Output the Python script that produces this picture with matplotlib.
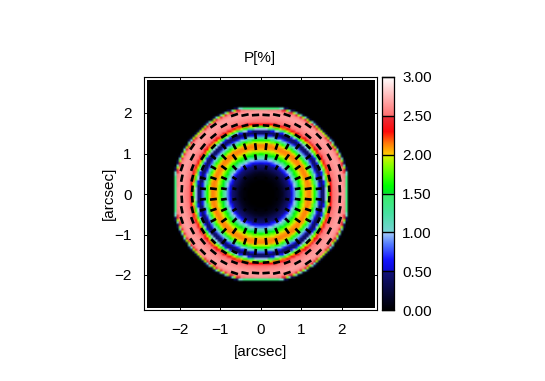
import numpy as np
import matplotlib
matplotlib.use("Agg")
import matplotlib.pyplot as plt
from matplotlib.collections import LineCollection
from matplotlib.colors import LinearSegmentedColormap

plt.rcParams['font.family'] = ['Liberation Sans', 'DejaVu Sans']
plt.rcParams['font.size'] = 11

# radial polarisation profile, one value per 0.025 arcsec ring
p_profile = [0,0,0,0,0,0,0,0,0,0,0,0,0,
             .01,.02,.03,.04,.05,.07,.09,.11,.14,.17,.22,.27,.32,.37,.42,.46,.50,.56,.63,.72,.84,.98,1.12,
             1.25,1.38,1.50,1.60,1.70,1.80,1.90,1.98,2.04,2.08,2.11,2.13,2.13,2.10,2.04,1.95,1.82,1.65,
             1.45,1.25,1.02,.80,.60,.47,.40,.40,.45,.62,1.00,1.40,1.70,1.95,2.15,2.30,2.42,2.50,2.54,2.56,
             2.58,2.60,2.62,2.64,2.66,2.67,2.67,2.66,2.63,2.59,2.55,2.45,1.90,1.10,.30,0,0,0,0]
# dash length per 0.05 arcsec ring (arcsec)
len_profile = [0.03,0.03,0.03,0.03,0.03,0.04,0.04,0.05,0.05,0.06,0.07,0.08,0.09,0.10,0.11,0.12,0.12,
               0.13,0.14,0.15,0.15,0.16,0.16,0.17,0.17,0.16,0.16,0.15,0.15,0.15,0.15,0.15,0.15,0.15,
               0.16,0.17,0.17,0.18,0.18,0.18,0.18,0.18,0.18,0.18,0.00,0.00,0.00]
ring_step = 0.025
len_step = 0.05
radial_limit = 1.50       # dashes radial inside, tangential outside
cell = 0.05625
clip_box = 2.13
edge_value = 1.40
dash_pitch = 0.26
dash_offset = 0.13
dash_count = 9
tick_vals = [-2, -1, 0, 1, 2]
cbar_ticks = [0.00, 0.50, 1.00, 1.50, 2.00, 2.50, 3.00]

cmap_stops = [(0.00,(0,0,0)),(0.10,(3,3,25)),(0.499,(18,18,125)),(0.50,(10,10,210)),(0.65,(20,20,255)),(0.85,(85,125,255)),
              (0.999,(165,205,250)),(1.00,(120,210,215)),(1.25,(70,225,160)),(1.499,(55,240,100)),
              (1.50,(0,230,40)),(1.60,(0,255,0)),(1.85,(130,255,0)),(1.999,(225,240,0)),
              (2.00,(255,205,0)),(2.15,(255,120,10)),(2.30,(255,10,10)),(2.499,(230,50,60)),
              (2.50,(255,110,110)),(3.00,(255,255,255))]
cmap = LinearSegmentedColormap.from_list('pol', [(v/3.0, tuple(c/255 for c in col)) for v, col in cmap_stops], N=512)

W, H = 545, 381
fig = plt.figure(figsize=(W/100, H/100), dpi=100, facecolor='white')
ax = fig.add_axes([144/W, 1-310/H, 232.5/W, 233/H])
ppa = 40.5
cx, cy = 260.8, 194.0

nx = 100
edges = (np.arange(nx)-nx/2+0.5)*cell
X, Y = np.meshgrid(edges, edges)
R = np.hypot(X, Y)
idx = np.minimum(np.round(R/ring_step).astype(int), len(p_profile)-1)
P = np.array(p_profile, dtype=float)[idx]
M = np.maximum(np.abs(X), np.abs(Y))
P = np.where(M > clip_box, 0, P)
P = np.where((M > clip_box-cell) & (M <= clip_box), np.minimum(P, edge_value), P)
ax.imshow(P, cmap=cmap, vmin=0, vmax=3, origin='lower', interpolation='bilinear', aspect='auto',
          extent=[edges[0]-cell/2, edges[-1]+cell/2, edges[0]-cell/2, edges[-1]+cell/2], zorder=1)
ax.set_xlim((144-cx)/ppa, (376.5-cx)/ppa)
ax.set_ylim((cy-310)/ppa, (cy-77)/ppa)

centres = dash_offset + dash_pitch*np.arange(dash_count)
centres = np.concatenate([-centres[::-1], centres])
segs = []
for xc in centres:
    for yc in centres:
        r = np.hypot(xc, yc)
        i = int(round(r/len_step))
        if i >= len(len_profile) or len_profile[i] == 0 or r > 2.06:
            continue
        th = np.arctan2(yc, xc)
        if r > radial_limit:
            th += np.pi/2
        L = len_profile[i]/2
        segs.append([(xc-L*np.cos(th), yc-L*np.sin(th)), (xc+L*np.cos(th), yc+L*np.sin(th))])
ax.add_collection(LineCollection(segs, colors='k', linewidths=1.9, capstyle='butt', zorder=2))

ax.set_xticks(tick_vals)
ax.set_yticks(tick_vals)
ax.tick_params(direction='in', length=2.5, width=0.7, top=True, right=True, pad=9, color='k')
for s in ax.spines.values():
    s.set_linewidth(0.8)
ax.set_title('P[%]', fontsize=11, pad=11)
ax.set_xlabel('[arcsec]', labelpad=6)
ax.set_ylabel('[arcsec]', labelpad=-1)

cax = fig.add_axes([381.5/W, 1-310/H, 12.5/W, 233/H])
grad = np.linspace(0, 3, 512).reshape(-1, 1)
cax.imshow(grad, cmap=cmap, vmin=0, vmax=3, origin='lower', aspect='auto', extent=[0, 1, 0, 3])
cax.set_xticks([])
cax.set_yticks(cbar_ticks)
cax.set_yticklabels([f'{v:.2f}' for v in cbar_ticks])
cax.yaxis.tick_right()
cax.tick_params(axis='y', direction='in', length=9, width=1.0, pad=6, color='k')
for s in cax.spines.values():
    s.set_linewidth(0.9)

fig.savefig('out.png', dpi=100)
